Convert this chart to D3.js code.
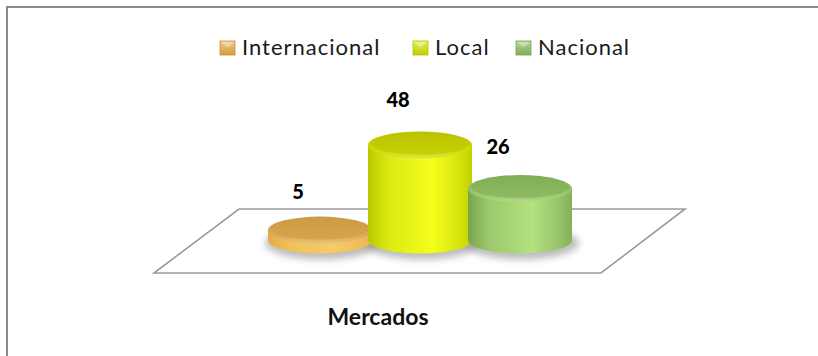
<!DOCTYPE html>
<html>
<head>
<meta charset="utf-8">
<script src="https://cdn.jsdelivr.net/npm/d3@7"></script>
<style>
  html, body { margin: 0; padding: 0; background: #fff; }
  svg { display: block; }
</style>
</head>
<body>
<div id="chart"></div>
<script>
// Market split, one cylinder per series
const category = "Mercados";
const seriesNames = ["Internacional", "Local", "Nacional"];
const seriesValues = [5, 48, 26];

const W = 818, H = 356;

// cylinder palettes: side (left / light / right) and top (back / front)
const palette = {
  Internacional: { side: ["#E2AC48", "#F7CB66", "#E8B552"], top: ["#CC9A44", "#DDAD55"], legend: "#E8AE45" },
  Local:         { side: ["#B8C800", "#F4FF1C", "#C2D000"], top: ["#B9C200", "#D2DC06"], legend: "#D6E400" },
  Nacional:      { side: ["#79A44D", "#B3E17F", "#83B058"], top: ["#80AD55", "#9CCA6C"], legend: "#8FBF63" }
};

const svg = d3.select("#chart").append("svg")
  .attr("width", W).attr("height", H)
  .style("font-family", "Lato, 'Open Sans', sans-serif");

const defs = svg.append("defs");
defs.append("filter").attr("id", "soft")
  .attr("x", "-50%").attr("y", "-50%").attr("width", "200%").attr("height", "200%")
  .append("feGaussianBlur").attr("stdDeviation", 3.5);

seriesNames.forEach((name, i) => {
  const p = palette[name];
  const gs = defs.append("linearGradient").attr("id", "side" + i)
    .attr("x1", 0).attr("x2", 1).attr("y1", 0).attr("y2", 0);
  gs.append("stop").attr("offset", "0%").attr("stop-color", p.side[0]);
  gs.append("stop").attr("offset", "20%").attr("stop-color", d3.interpolateRgb(p.side[0], p.side[1])(0.6));
  gs.append("stop").attr("offset", "62%").attr("stop-color", p.side[1]);
  gs.append("stop").attr("offset", "88%").attr("stop-color", d3.interpolateRgb(p.side[1], p.side[2])(0.6));
  gs.append("stop").attr("offset", "100%").attr("stop-color", p.side[2]);

  const gt = defs.append("linearGradient").attr("id", "top" + i)
    .attr("x1", 0).attr("x2", 0).attr("y1", 0).attr("y2", 1);
  gt.append("stop").attr("offset", "0%").attr("stop-color", p.top[0]);
  gt.append("stop").attr("offset", "75%").attr("stop-color", p.top[1]);
  gt.append("stop").attr("offset", "100%").attr("stop-color", d3.interpolateRgb(p.top[1], "#ffffff")(0.25));

  const gl = defs.append("linearGradient").attr("id", "leg" + i)
    .attr("x1", 0).attr("x2", 0).attr("y1", 0).attr("y2", 1);
  gl.append("stop").attr("offset", "0%").attr("stop-color", d3.interpolateRgb(p.legend, "#ffffff")(0.35));
  gl.append("stop").attr("offset", "100%").attr("stop-color", d3.interpolateRgb(p.legend, "#000000")(0.1));
});

// outer frame
svg.append("rect")
  .attr("x", 7).attr("y", 7).attr("width", W + 10).attr("height", H + 10)
  .attr("fill", "none").attr("stroke", "#8a8a8a").attr("stroke-width", 2);

// scales
const x = d3.scaleBand().domain(seriesNames).range([270, 570]).padding(0);
const h = d3.scaleLinear().domain([0, 48]).range([0, 95]);
const baseY = 240;           // centre of the cylinders' bottom ellipses
const rx = 52, ry = 13.5;

// floor
const floorBack = 209, floorFront = 273;
const floor = [[239, floorBack], [685, floorBack], [601, floorFront], [154, floorFront]];
svg.append("path")
  .attr("d", d3.line()(floor) + "Z")
  .attr("fill", "#fff").attr("stroke", "#9a9a9a").attr("stroke-width", 1.6);

const data = seriesNames.map((name, i) => ({ name, value: seriesValues[i], i }));

// ground shadows
svg.append("g").selectAll("ellipse").data(data).join("ellipse")
  .attr("cx", d => x(d.name) + x.bandwidth() / 2 + 2)
  .attr("cy", baseY + 3)
  .attr("rx", rx + 5).attr("ry", ry + 3)
  .attr("fill", "#7a7a7a").attr("opacity", 0.5)
  .attr("filter", "url(#soft)");

// cylinders, drawn left to right so later ones overlap earlier ones
const cyl = svg.append("g").selectAll("g").data(data).join("g");
cyl.each(function (d) {
  const g = d3.select(this);
  const cx = x(d.name) + x.bandwidth() / 2;
  const yTop = baseY - h(d.value);
  g.append("path")
    .attr("d", `M${cx - rx},${yTop} L${cx - rx},${baseY} A${rx},${ry} 0 0 0 ${cx + rx},${baseY} L${cx + rx},${yTop} Z`)
    .attr("fill", `url(#side${d.i})`);
  g.append("ellipse")
    .attr("cx", cx).attr("cy", yTop).attr("rx", rx).attr("ry", ry)
    .attr("fill", `url(#top${d.i})`);
  // inner top face, giving the bevelled rim
  g.append("ellipse")
    .attr("cx", cx).attr("cy", yTop - 1.5).attr("rx", rx - 3).attr("ry", ry - 2.5)
    .attr("fill", palette[d.name].top[0]).attr("opacity", 0.55);
});

// value labels
svg.append("g").selectAll("text").data(data).join("text")
  .attr("x", d => x(d.name) + x.bandwidth() / 2 - 22)
  .attr("y", d => baseY - h(d.value) * 1.08 - 30)
  .attr("text-anchor", "middle")
  .attr("font-weight", 900).attr("font-size", 20).attr("fill", "#000")
  .text(d => d.value);

// category label
svg.append("text")
  .attr("x", 378).attr("y", 325)
  .attr("text-anchor", "middle")
  .attr("font-weight", "bold").attr("font-size", 23).attr("fill", "#111")
  .text(category);

// legend
const legendX = [220, 413, 516];
const leg = svg.append("g").selectAll("g").data(data).join("g")
  .attr("transform", d => `translate(${legendX[d.i]},41)`);
leg.append("rect").attr("width", 15).attr("height", 14)
  .attr("fill", d => `url(#leg${d.i})`)
  .attr("stroke", d => d3.interpolateRgb(palette[d.name].legend, "#000")(0.15)).attr("stroke-width", 0.8);
leg.append("path").attr("d", "M1,1 L7.5,6.5 L14,1 Z")
  .attr("fill", "#fff").attr("opacity", 0.35);
leg.append("text")
  .attr("x", 22).attr("y", 14)
  .attr("font-size", 22).attr("letter-spacing", 1).attr("fill", "#1a1a1a")
  .text(d => d.name);
</script>
</body>
</html>
